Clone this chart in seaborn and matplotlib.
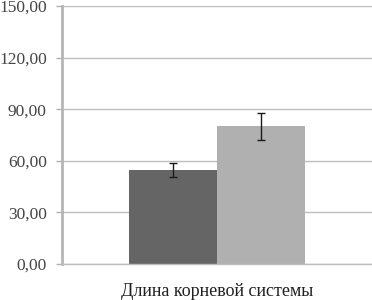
import pandas as pd
import numpy as np
import seaborn as sns
import matplotlib.pyplot as plt

# Chart data
category = ["Длина корневой системы"]
groups = ["Контроль", "Опыт"]
values = [54.5, 80.0]
errors = [4.0, 8.0]
bar_colors = ["#656565", "#b0b0b0"]
y_ticks = [0, 30, 60, 90, 120, 150]

df = pd.DataFrame({
    "category": category * len(groups),
    "group": groups,
    "value": values,
})

sns.set_style("white")
plt.rcParams['font.family'] = ['Liberation Serif', 'DejaVu Serif']

fig = plt.figure(figsize=(3.72, 3.0), dpi=100)
ax = fig.add_axes([0.1667, 0.12, 0.8333, 0.86])

sns.barplot(data=df, x="category", y="value", hue="group", palette=bar_colors,
            errorbar=None, width=0.565, gap=0, saturation=1, linewidth=0,
            ax=ax, legend=False)

# Error bars at bar centres
for patch, err in zip(ax.patches, errors):
    cx = patch.get_x() + patch.get_width() / 2
    ax.errorbar(cx, patch.get_height(), yerr=err, color="#1a1a1a",
                capsize=3, elinewidth=1, capthick=1)

ax.set_ylim(0, 150)
ax.set_xlim(-0.5, 0.5)
ax.set_yticks(y_ticks)
ax.set_yticklabels([f"{t:.2f}".replace(".", ",") for t in y_ticks],
                   fontsize=12.5, color="#454545")
ax.tick_params(axis="x", labelsize=13, colors="#202020", length=0, pad=14)
ax.tick_params(axis="y", length=4, width=1, color="#b0b0b0", left=True, pad=7)
ax.yaxis.grid(True, color="#bdbdbd", linewidth=1)
ax.set_axisbelow(True)
ax.set_xlabel("")
ax.set_ylabel("")
for side in ["top", "right"]:
    ax.spines[side].set_visible(False)
ax.spines["left"].set_color("#b5b5b5")
ax.spines["left"].set_linewidth(2)
ax.spines["bottom"].set_color("#bdbdbd")
ax.spines["bottom"].set_linewidth(1)

fig.savefig("out.png", dpi=100)
